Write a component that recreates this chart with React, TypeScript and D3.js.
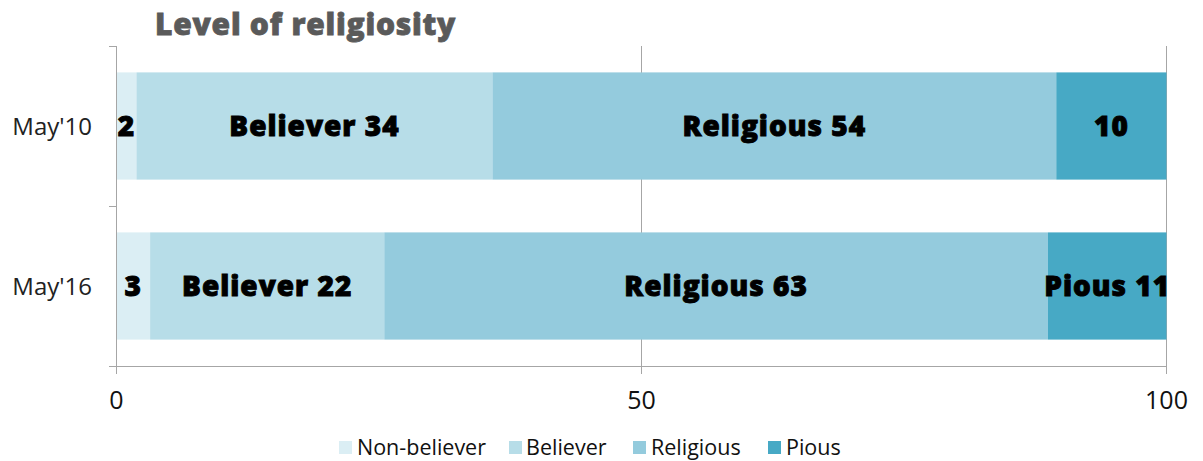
import React from "react";
import * as d3 from "d3";

const categories = ["May'10", "May'16"];
const seriesNames = ["Non-believer", "Believer", "Religious", "Pious"];
const seriesColors = ["#dbeef4", "#b7dde8", "#94cbdd", "#47a9c5"];
const may10Values = [1.9, 33.9, 53.7, 10.5];
const may16Values = [3.2, 22.3, 63.2, 11.3];
const may10Labels = ["2", "Believer 34", "Religious 54", "10"];
const may16Labels = ["3", "Believer 22", "Religious 63", "Pious 11"];
const xTicks = [0, 50, 100];
const title = "Level of religiosity";

const W = 1203;
const H = 461;

export default function App() {
  const x = d3.scaleLinear().domain([0, 100]).range([116.5, 1166.5]);
  const y = d3
    .scaleBand<string>()
    .domain(categories)
    .range([46, 366])
    .paddingInner(0.33)
    .paddingOuter(0.165);

  const rows = [
    { cat: categories[0], values: may10Values, labels: may10Labels },
    { cat: categories[1], values: may16Values, labels: may16Labels },
  ];

  const axisColor = "#a6a6a6";
  const regular = "'Open Sans', 'Liberation Sans', Arial, sans-serif";
  const heavy = "'Open Sans', Roboto, 'Liberation Sans', sans-serif";

  const legendItems = [
    { name: seriesNames[0], sx: 339, tx: 357 },
    { name: seriesNames[1], sx: 509, tx: 526 },
    { name: seriesNames[2], sx: 633, tx: 651 },
    { name: seriesNames[3], sx: 768, tx: 786 },
  ];

  return (
    <svg
      width={W}
      height={H}
      style={{ position: "absolute", left: 0, top: 0, background: "#fff" }}
    >
      <text
        x={155}
        y={35}
        fontFamily={heavy}
        fontWeight={800}
        fontSize={30}
        letterSpacing={0.75}
        stroke="#5a5a5a"
        strokeWidth={0.8}
        fill="#5a5a5a"
      >
        {title}
      </text>

      {/* gridlines */}
      {xTicks.slice(1).map((t) => (
        <line
          key={"g" + t}
          x1={x(t)}
          x2={x(t)}
          y1={46}
          y2={374}
          stroke={axisColor}
          strokeWidth={1}
        />
      ))}

      {/* bars */}
      {rows.map((r) => {
        const stack = d3.cumsum(r.values);
        return (
          <g key={r.cat}>
            {r.values.map((v, i) => {
              const x0 = x(i === 0 ? 0 : stack[i - 1]);
              const x1 = x(stack[i]);
              return (
                <rect
                  key={i}
                  x={x0}
                  y={y(r.cat)!}
                  width={x1 - x0}
                  height={y.bandwidth()}
                  fill={seriesColors[i]}
                />
              );
            })}
            {r.values.map((v, i) => {
              const x0 = x(i === 0 ? 0 : stack[i - 1]);
              const x1 = x(stack[i]);
              return (
                <text
                  key={"l" + i}
                  x={(x0 + x1) / 2}
                  y={y(r.cat)! + y.bandwidth() / 2 + 10}
                  textAnchor="middle"
                  fontFamily={heavy}
                  fontWeight={800}
                  fontSize={28}
                  letterSpacing={1}
                  stroke="#000"
                  strokeWidth={0.9}
                  fill="#000"
                >
                  {r.labels[i]}
                </text>
              );
            })}
            <text
              x={92}
              y={y(r.cat)! + y.bandwidth() / 2 + 9}
              textAnchor="end"
              fontFamily={regular}
              fontSize={24}
              fill="#222"
            >
              {r.cat}
            </text>
          </g>
        );
      })}

      {/* y axis */}
      <line x1={116.5} x2={116.5} y1={46} y2={374} stroke={axisColor} />
      {[46, 206, 366].map((yy) => (
        <line key={yy} x1={109} x2={116.5} y1={yy + 0.5} y2={yy + 0.5} stroke={axisColor} />
      ))}
      {/* x axis */}
      <line x1={109} x2={x(100)} y1={366.5} y2={366.5} stroke={axisColor} />
      {xTicks.map((t) => (
        <text
          key={"t" + t}
          x={x(t)}
          y={409}
          textAnchor="middle"
          fontFamily={regular}
          fontSize={25}
          fill="#111"
        >
          {t}
        </text>
      ))}

      {/* legend */}
      {legendItems.map((l, i) => (
        <g key={l.name}>
          <rect x={l.sx} y={441} width={13} height={13} fill={seriesColors[i]} />
          <text x={l.tx} y={455} fontFamily={regular} fontSize={21.5} fill="#111">
            {l.name}
          </text>
        </g>
      ))}
    </svg>
  );
}
